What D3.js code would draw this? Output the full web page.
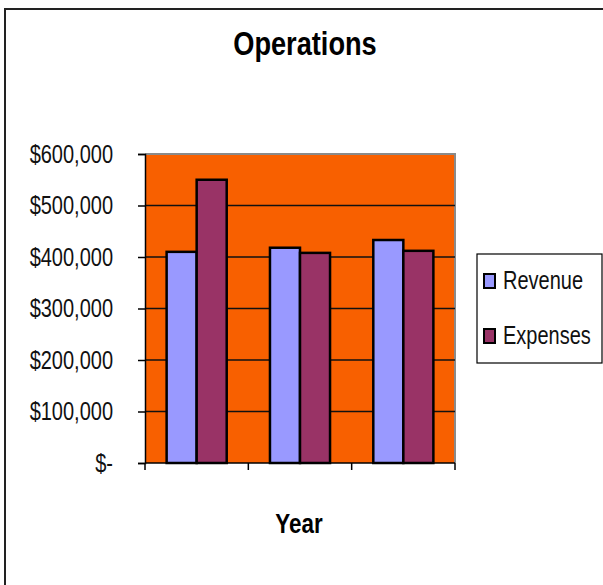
<!DOCTYPE html>
<html>
<head>
<meta charset="utf-8">
<script src="https://cdn.jsdelivr.net/npm/d3@7"></script>
<style>
  body { margin: 0; background: #fff; }
  text { font-family: "Liberation Sans", Arial, sans-serif; }
</style>
</head>
<body>
<div id="chart"></div>
<script>
// Chart data
const categories = ["Year 1", "Year 2", "Year 3"];
const seriesNames = ["Revenue", "Expenses"];
const revenue = [410000, 418000, 433000];
const expenses = [550000, 408000, 412000];
const yTicks = [0, 100000, 200000, 300000, 400000, 500000, 600000];

const colors = { Revenue: "#9999ff", Expenses: "#993366" };

const width = 603;
const height = 585;
const margin = { top: 154, right: 148, bottom: 122, left: 145 };
const sx = 0.8; // text in the picture is horizontally condensed

const rows = categories.map((c, i) => ({ category: c, Revenue: revenue[i], Expenses: expenses[i] }));

const svg = d3.select("#chart")
    .append("svg")
    .attr("width", width)
    .attr("height", height);

// squeeze text horizontally around its own x position
function squeeze(sel) {
    sel.each(function () {
        const t = d3.select(this);
        const x = +t.attr("x") || 0;
        t.attr("x", x / sx).attr("transform", `scale(${sx},1)`);
    });
}

// Outer frame (only top and left visible)
svg.append("path")
    .attr("d", `M5,${height} V9 H${width}`)
    .attr("fill", "none")
    .attr("stroke", "#222")
    .attr("stroke-width", 2);

// Scales
const x0 = d3.scaleBand()
    .domain(categories)
    .range([margin.left, width - margin.right])
    .padding(0);

const x1 = d3.scaleBand()
    .domain(seriesNames)
    .range([0, x0.bandwidth()])
    .paddingInner(0)
    .paddingOuter(0.72);

const y = d3.scaleLinear()
    .domain([0, 600000])
    .range([height - margin.bottom, margin.top]);

// Plot area background
svg.append("rect")
    .attr("x", x0.range()[0])
    .attr("y", y(600000))
    .attr("width", x0.range()[1] - x0.range()[0])
    .attr("height", y(0) - y(600000))
    .attr("fill", "#f86000");

// top and right edge of plot area
svg.append("path")
    .attr("d", `M${x0.range()[0]},${y(600000)} H${x0.range()[1]} V${y(0)}`)
    .attr("fill", "none")
    .attr("stroke", "#8a8a8a")
    .attr("stroke-width", 2);

// Gridlines
svg.append("g")
    .selectAll("line")
    .data(yTicks.filter(d => d > 0 && d < 600000))
    .join("line")
    .attr("x1", x0.range()[0])
    .attr("x2", x0.range()[1])
    .attr("y1", d => y(d))
    .attr("y2", d => y(d))
    .attr("stroke", "#111")
    .attr("stroke-width", 1.5);

// Bars
svg.append("g")
    .selectAll("g")
    .data(rows)
    .join("g")
    .attr("transform", d => `translate(${x0(d.category)},0)`)
    .selectAll("rect")
    .data(d => seriesNames.map(s => ({ key: s, value: d[s] })))
    .join("rect")
    .attr("x", d => x1(d.key))
    .attr("y", d => y(d.value))
    .attr("width", x1.bandwidth())
    .attr("height", d => y(0) - y(d.value))
    .attr("fill", d => colors[d.key])
    .attr("stroke", "#000")
    .attr("stroke-width", 2.5);

// Y axis
const yAxis = svg.append("g")
    .attr("transform", `translate(${margin.left},0)`)
    .call(d3.axisLeft(y)
        .tickValues(yTicks)
        .tickSize(7)
        .tickPadding(25)
        .tickFormat(d => d === 0 ? "$-" : d3.format("$,")(d)));
yAxis.select(".domain").attr("stroke", "#000").attr("stroke-width", 1.5);
yAxis.selectAll(".tick line").attr("stroke", "#000").attr("stroke-width", 1.5);
yAxis.selectAll(".tick text")
    .attr("font-size", "25px")
    .attr("fill", "#111")
    .attr("font-family", "Liberation Sans, Arial, sans-serif")
    .call(squeeze);

// X axis: line with ticks at category boundaries, no labels
const xAxis = svg.append("g");
xAxis.append("line")
    .attr("x1", x0.range()[0])
    .attr("x2", x0.range()[1])
    .attr("y1", y(0))
    .attr("y2", y(0))
    .attr("stroke", "#000")
    .attr("stroke-width", 1.5);
xAxis.selectAll(".xtick")
    .data(categories.map(c => x0(c)).concat([x0.range()[1]]))
    .join("line")
    .attr("class", "xtick")
    .attr("x1", d => d)
    .attr("x2", d => d)
    .attr("y1", y(0))
    .attr("y2", y(0) + 7)
    .attr("stroke", "#000")
    .attr("stroke-width", 1.5);

// Title
svg.append("text")
    .attr("x", 305)
    .attr("y", 55)
    .attr("text-anchor", "middle")
    .attr("font-size", "34px")
    .attr("font-weight", "bold")
    .text("Operations")
    .call(squeeze);

// X axis title
svg.append("text")
    .attr("x", 299)
    .attr("y", 533)
    .attr("text-anchor", "middle")
    .attr("font-size", "28px")
    .attr("font-weight", "bold")
    .text("Year")
    .call(squeeze);

// Legend
const legend = svg.append("g");
legend.append("rect")
    .attr("x", 477)
    .attr("y", 254)
    .attr("width", 125)
    .attr("height", 109)
    .attr("fill", "#fff")
    .attr("stroke", "#000")
    .attr("stroke-width", 1.2);

const items = legend.selectAll(".item")
    .data(seriesNames)
    .join("g")
    .attr("class", "item")
    .attr("transform", (d, i) => `translate(0,${i * 55})`);

items.append("rect")
    .attr("x", 484)
    .attr("y", 274)
    .attr("width", 11)
    .attr("height", 14)
    .attr("fill", d => colors[d])
    .attr("stroke", "#000")
    .attr("stroke-width", 2);

items.append("text")
    .attr("x", 503)
    .attr("y", 289)
    .attr("font-size", "25px")
    .attr("fill", "#111")
    .text(d => d)
    .call(squeeze);
</script>
</body>
</html>
